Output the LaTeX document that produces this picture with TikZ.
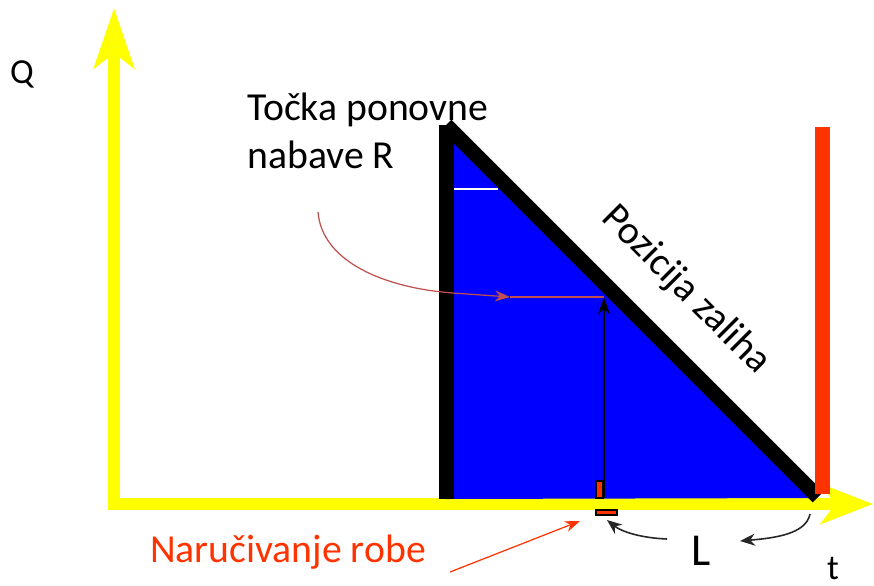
\documentclass[tikz,border=0pt]{standalone}
\usepackage{fontspec}
\setmainfont{Carlito}
\usepackage{xcolor}
\definecolor{axisyellow}{RGB}{255, 255, 0}
\definecolor{stockblue}{RGB}{0, 0, 255}
\definecolor{orderred}{RGB}{255, 51, 0}
\definecolor{pointred}{RGB}{192, 80, 77}
\usetikzlibrary{arrows.meta,calc,positioning}

\tikzset{
    axisline/.style={axisyellow, line width=0.24cm, line join=miter},
    thickbar/.style={line width=0.3cm},
    labeltext/.style={font=\fontsize{22.6}{27}\selectfont, inner sep=0pt},
    smalltext/.style={font=\fontsize{20}{24}\selectfont, inner sep=0pt},
    leadarrow/.style={line width=0.7pt, -{Stealth[length=3mm, width=2.2mm]}}
}

\begin{document}
\begin{tikzpicture}[x=0.02cm, y=-0.02cm]
    \useasboundingbox (0,0) rectangle (874,585);

    % Axes
    \coordinate (ytip) at (114,8);
    \coordinate (origin) at (114,504);
    \coordinate (xtip) at (873,504);
    \draw[axisline, {Stealth[length=1.2cm, width=0.8cm, inset=0.3cm]}-{Stealth[length=1.05cm, width=0.8cm, inset=0.3cm]}] (ytip) -- (origin) -- (xtip);
    \node[smalltext] (qlabel) at (22,74) {Q};
    \node[smalltext] (tlabel) at (833,569) {t};

    % Stock triangle
    \coordinate (top) at (446,125);
    \coordinate (foot) at (446,499);
    \coordinate (zero) at (815,498);
    \fill[stockblue] (top) -- (foot) -- (zero) -- cycle;
    \draw[white, line width=0.8pt] (454,189) -- (498,189);
    \draw[thickbar, black] (foot) -- (top);
    \draw[thickbar, black] (top) -- (818,497);

    % New delivery
    \draw[orderred, thickbar] (822,127) -- (822,494);

    % Reorder point R
    \coordinate (rpoint) at (604,297);
    \coordinate (rmid) at (510,297);
    \node[labeltext, align=left, anchor=north west] (reorder) at (247,93) {Točka ponovne\\nabave R};
    \draw[pointred, leadarrow] (318,212) .. controls (322,262) and (385,288) .. (453,293) -- (rmid);
    \draw[pointred, line width=0.7pt] (rmid) -- (rpoint);
    \node[labeltext, rotate=-45] (position) at (686,290) {Pozicija zaliha};

    % Order placed
    \draw[black, fill=orderred, line width=0.6pt] (596,481) rectangle (603,498);
    \draw[black, fill=orderred, line width=0.6pt] (596,510) rectangle (617,515);
    \coordinate (orderpt) at (604,498);
    \draw[black, line width=1.3pt, -{Stealth[length=3.5mm, width=2.4mm]}] (orderpt) -- (rpoint);
    \node[labeltext, text=orderred] (ordering) at (288,552) {Naručivanje robe};
    \draw[orderred, leadarrow] (450,572) -- (580,521);

    % Lead time L
    \node[font=\fontsize{26}{30}\selectfont, inner sep=0pt] (lead) at (701,551) {L};
    \draw[black!85, line width=0.9pt, -{Stealth[length=3mm, width=2.4mm]}] (810,514) .. controls (806,534) and (775,538) .. (740,541);
    \draw[black!85, line width=0.9pt, -{Stealth[length=3mm, width=2.4mm]}] (667,539) .. controls (642,538) and (622,532) .. (607,520);
\end{tikzpicture}
\end{document}
